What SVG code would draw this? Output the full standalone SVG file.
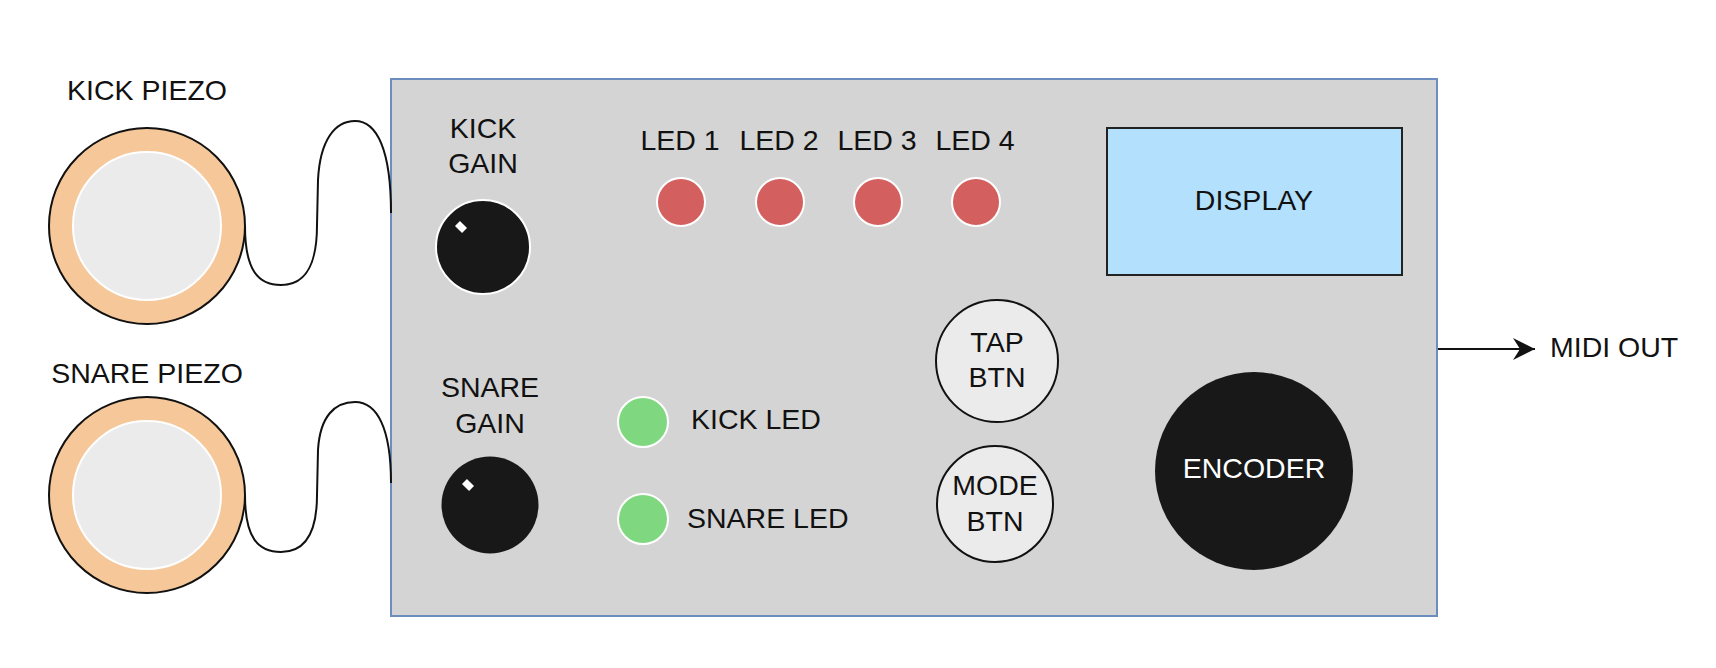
<svg xmlns="http://www.w3.org/2000/svg" width="1716" height="668" viewBox="0 0 1716 668">
<style>
text{font-family:"Liberation Sans",Arial,Helvetica,sans-serif;font-size:28.5px;fill:#111;}
.c{text-anchor:middle;}
.piezo-outer{fill:#F5C799;stroke:#111;stroke-width:2;}
.piezo-inner{fill:#EBEBEB;stroke:#fff;stroke-width:2;}
.knob{fill:#181818;stroke:#fff;stroke-width:2;}
.ind{fill:#fff;}
.red{fill:#D45F5F;stroke:#fff;stroke-width:2;}
.green{fill:#7FD87F;stroke:#fff;stroke-width:2;}
.btn{fill:#EBEBEB;stroke:#111;stroke-width:2;}
.cable{fill:none;stroke:#111;stroke-width:2;}
</style>
<defs>
<marker id="arr" markerWidth="24" markerHeight="24" viewBox="0 0 24 24" refX="22" refY="12" orient="auto" markerUnits="userSpaceOnUse">
<path d="M22 12 L0 1 L7 12 L0 23 Z" fill="#111"/>
</marker>
</defs>
<rect x="0" y="0" width="1716" height="668" fill="#fff"/>
<g id="panel">
<rect x="391" y="79" width="1046" height="537" fill="#D4D4D4" stroke="#6C8EBF" stroke-width="2"/>
</g>
<g id="connectors">
<path class="cable" d="M245 226 C245 270 258 285 281 285 C304 285 317 268 317 225 L318 180 C320 140 335 121 355 121 C377 121 391 150 391 213"/>
<path class="cable" d="M245 495 C245 538 258 552 281 552 C304 552 317 535 317 495 L318 450 C320 416 335 402 355 402 C377 402 391 428 391 483"/>
<line x1="1438" y1="349" x2="1535" y2="349" stroke="#111" stroke-width="2" marker-end="url(#arr)"/>
</g>
<g id="kick-piezo">
<circle class="piezo-outer" cx="147" cy="226" r="98"/>
<circle class="piezo-inner" cx="147" cy="226" r="74"/>
<text class="c" x="147" y="100">KICK PIEZO</text>
</g>
<g id="snare-piezo">
<circle class="piezo-outer" cx="147" cy="495" r="98"/>
<circle class="piezo-inner" cx="147" cy="495" r="74"/>
<text class="c" x="147" y="383">SNARE PIEZO</text>
</g>
<g id="kick-gain">
<text class="c" x="483" y="138">KICK</text>
<text class="c" x="483" y="173">GAIN</text>
<circle class="knob" cx="483" cy="247" r="47"/>
<rect class="ind" x="-5" y="-3.5" width="10" height="7" transform="translate(461 227) rotate(45)"/>
</g>
<g id="snare-gain">
<text class="c" x="490" y="397">SNARE</text>
<text class="c" x="490" y="433">GAIN</text>
<circle cx="490" cy="505" r="48.5" fill="#181818"/>
<rect class="ind" x="-5" y="-3.5" width="10" height="7" transform="translate(468 485) rotate(45)"/>
</g>
<g id="led1"><text class="c" x="680" y="150">LED 1</text><circle class="red" cx="681" cy="202" r="24"/></g>
<g id="led2"><text class="c" x="779" y="150">LED 2</text><circle class="red" cx="780" cy="202" r="24"/></g>
<g id="led3"><text class="c" x="877" y="150">LED 3</text><circle class="red" cx="878" cy="202" r="24"/></g>
<g id="led4"><text class="c" x="975" y="150">LED 4</text><circle class="red" cx="976" cy="202" r="24"/></g>
<g id="display">
<rect x="1107" y="128" width="295" height="147" fill="#B3E0FC" stroke="#222" stroke-width="2"/>
<text class="c" x="1254" y="210">DISPLAY</text>
</g>
<g id="kick-led">
<circle class="green" cx="643" cy="422" r="25"/>
<text x="691" y="429">KICK LED</text>
</g>
<g id="snare-led">
<circle class="green" cx="643" cy="519" r="25"/>
<text x="687" y="528">SNARE LED</text>
</g>
<g id="tap-btn">
<circle class="btn" cx="997" cy="361" r="61"/>
<text class="c" x="997" y="352">TAP</text>
<text class="c" x="997" y="387">BTN</text>
</g>
<g id="mode-btn">
<circle class="btn" cx="995" cy="504" r="58"/>
<text class="c" x="995" y="495">MODE</text>
<text class="c" x="995" y="531">BTN</text>
</g>
<g id="encoder">
<circle cx="1254" cy="471" r="99" fill="#181818"/>
<text class="c" x="1254" y="478" style="fill:#fff">ENCODER</text>
</g>
<g id="midi-out">
<text x="1550" y="357">MIDI OUT</text>
</g>
</svg>
